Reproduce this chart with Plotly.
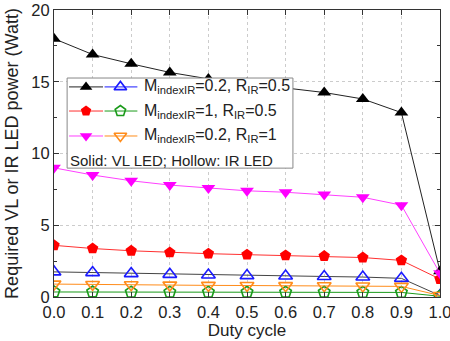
import plotly.graph_objects as go

duty = [0.0, 0.1, 0.2, 0.3, 0.4, 0.5, 0.6, 0.7, 0.8, 0.9, 1.0]
x_tick_labels = ["0.0", "0.1", "0.2", "0.3", "0.4", "0.5", "0.6", "0.7", "0.8", "0.9", "1.0"]

vl_m02_r05 = [18.0, 16.9, 16.25, 15.65, 15.2, 14.9, 14.6, 14.25, 13.8, 12.85, 1.8]
ir_m02_r05 = [1.75, 1.7, 1.63, 1.58, 1.53, 1.49, 1.46, 1.43, 1.39, 1.3, 0.1]
vl_m1_r05 = [3.6, 3.38, 3.22, 3.1, 3.02, 2.95, 2.9, 2.85, 2.75, 2.55, 1.25]
ir_m1_r05 = [0.35, 0.35, 0.34, 0.34, 0.34, 0.33, 0.33, 0.33, 0.32, 0.32, 0.05]
vl_m02_r1 = [9.0, 8.5, 8.1, 7.8, 7.6, 7.4, 7.3, 7.15, 6.95, 6.4, 1.65]
ir_m02_r1 = [0.9, 0.87, 0.85, 0.83, 0.81, 0.8, 0.79, 0.78, 0.77, 0.74, 0.1]

legend_labels = ["M<sub>indexIR</sub>=0.2, R<sub>IR</sub>=0.5",
                 "M<sub>indexIR</sub>=1, R<sub>IR</sub>=0.5",
                 "M<sub>indexIR</sub>=0.2, R<sub>IR</sub>=1"]
legend_note = "Solid: VL LED; Hollow: IR LED"

FONT = "Liberation Sans, Arial, sans-serif"

series = [
    (vl_m02_r05, "triangle-up", "black", "#222222"),
    (ir_m02_r05, "triangle-up-open", "#1a1aff", "#444444"),
    (vl_m1_r05, "pentagon", "#ff0000", "#ff3030"),
    (ir_m1_r05, "pentagon-open", "#1a9a1a", "#1a9a1a"),
    (vl_m02_r1, "triangle-down", "#ff00ff", "#ff40ff"),
    (ir_m02_r1, "triangle-down-open", "#ff8c1a", "#ff8c1a"),
]

fig = go.Figure()
for ys, sym, mcol, lcol in series:
    fig.add_trace(go.Scatter(
        x=duty, y=ys, mode="lines+markers",
        line=dict(color=lcol, width=1),
        marker=dict(symbol=sym, size=12, color=mcol,
                    line=dict(color=mcol, width=1.6 if "open" in sym else 0)),
        showlegend=False, cliponaxis=True, xaxis="x", yaxis="y"))

# custom legend on an overlay axis (paper-like 0..1 coords)
bx0, bx1, by0, by1 = 0.034, 0.619, 0.449, 0.763
fig.add_trace(go.Scatter(
    x=[bx0, bx1, bx1, bx0, bx0], y=[by0, by0, by1, by1, by0],
    mode="lines", fill="toself", fillcolor="white",
    line=dict(color="#888888", width=1),
    xaxis="x2", yaxis="y2", showlegend=False, hoverinfo="skip"))

rows_y = [0.732, 0.648, 0.561]
pairs = [(series[0], series[1]), (series[2], series[3]), (series[4], series[5])]
for ry, (solid, hollow), lab in zip(rows_y, pairs, legend_labels):
    for (ys, sym, mcol, lcol), (xa, xm, xb) in zip(
            [solid, hollow], [(0.039, 0.083, 0.127), (0.131, 0.172, 0.216)]):
        leg_line = mcol if "open" in sym else lcol
        fig.add_trace(go.Scatter(x=[xa, xb], y=[ry, ry], mode="lines",
                                 line=dict(color=leg_line, width=1),
                                 xaxis="x2", yaxis="y2", showlegend=False, hoverinfo="skip"))
        fig.add_trace(go.Scatter(x=[xm], y=[ry], mode="markers",
                                 marker=dict(symbol=sym, size=11, color=mcol,
                                             line=dict(color=mcol, width=1.6 if "open" in sym else 0)),
                                 xaxis="x2", yaxis="y2", showlegend=False, hoverinfo="skip"))
    fig.add_annotation(x=0.229, y=ry, xref="x2", yref="y2", text=lab, showarrow=False,
                       xanchor="left", yanchor="middle", font=dict(size=16, color="#222222", family=FONT))
fig.add_annotation(x=0.037, y=0.477, xref="x2", yref="y2", text=legend_note, showarrow=False,
                   xanchor="left", yanchor="middle", font=dict(size=15, color="#222222", family=FONT))

axis_common = dict(showline=True, linecolor="#333333", linewidth=1, mirror="ticks",
                   ticks="inside", ticklen=5, tickcolor="#333333",
                   showgrid=True, gridcolor="#cccccc", griddash="dot", gridwidth=1,
                   zeroline=False, automargin=False, ticklabeloverflow="allow",
                   tickfont=dict(size=16.5, color="#222222", family=FONT))

fig.update_layout(
    width=450, height=341,
    margin=dict(l=54, r=10, t=10, b=44),
    paper_bgcolor="white", plot_bgcolor="white",
    font=dict(family=FONT, color="#222222"),
    xaxis=dict(range=[0, 1], tickvals=duty, ticktext=x_tick_labels,
               title=dict(text="Duty cycle", font=dict(size=17, family=FONT), standoff=0),
               **axis_common),
    yaxis=dict(range=[0, 20], tickvals=[0, 5, 10, 15, 20],
               minor=dict(ticks="inside", ticklen=3, tickcolor="#333333", dtick=2.5, showgrid=False),
               title=dict(text="Required VL or IR LED power (Watt)", font=dict(size=18, family=FONT), standoff=8),
               **axis_common),
    xaxis2=dict(range=[0, 1], overlaying="x", visible=False, fixedrange=True),
    yaxis2=dict(range=[0, 1], overlaying="y", visible=False, fixedrange=True),
)

fig.write_html("out.html", config={"displayModeBar": False},
               post_script="document.body.style.margin='0';document.body.style.overflow='hidden';")
